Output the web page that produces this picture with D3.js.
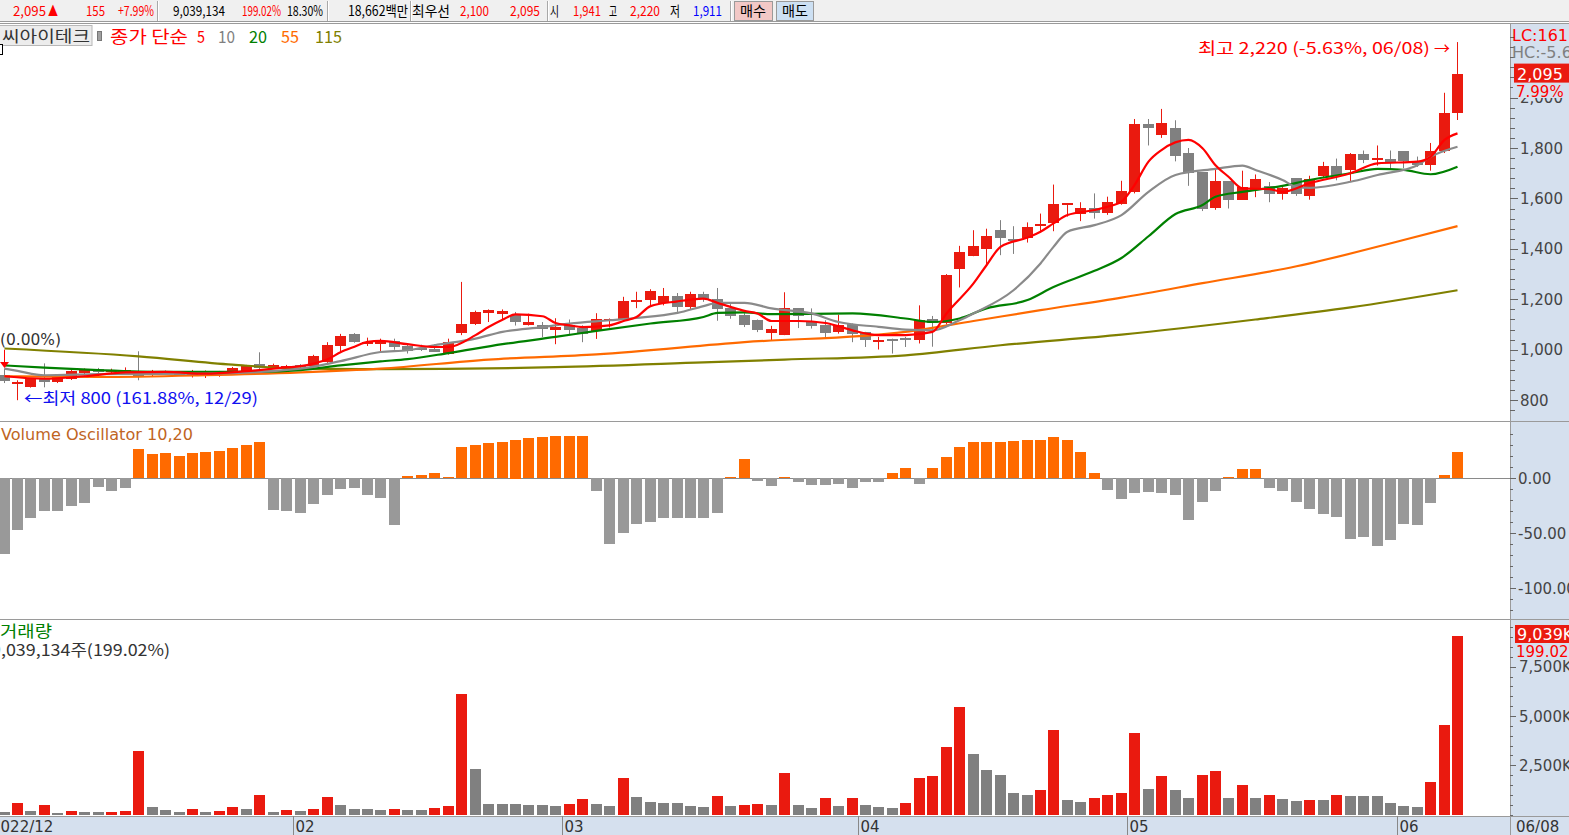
<!DOCTYPE html>
<html><head><meta charset="utf-8">
<script src="https://cdn.jsdelivr.net/npm/d3@7/dist/d3.min.js"></script>
<style>
html,body{margin:0;padding:0;background:#fff;overflow:hidden}
svg{display:block}
</style></head><body>
<svg id="chart" width="1569" height="835"></svg>
<script>
// ---------------- DATA ----------------
const dates = ["12/28","12/29",
"01/02","01/03","01/04","01/05","01/06","01/09","01/10","01/11","01/12","01/13","01/16","01/17","01/18","01/19","01/20","01/25","01/26","01/27","01/30","01/31",
"02/01","02/02","02/03","02/06","02/07","02/08","02/09","02/10","02/13","02/14","02/15","02/16","02/17","02/20","02/21","02/22","02/23","02/24","02/27","02/28",
"03/02","03/03","03/06","03/07","03/08","03/09","03/10","03/13","03/14","03/15","03/16","03/17","03/20","03/21","03/22","03/23","03/24","03/27","03/28","03/29","03/30","03/31",
"04/03","04/04","04/05","04/06","04/07","04/10","04/11","04/12","04/13","04/14","04/17","04/18","04/19","04/20","04/21","04/24","04/25","04/26","04/27","04/28",
"05/02","05/03","05/04","05/08","05/09","05/10","05/11","05/12","05/15","05/16","05/17","05/18","05/19","05/22","05/23","05/24","05/25","05/26","05/30","05/31",
"06/01","06/02","06/05","06/07","06/08"];

const opens = [
 900, 867, 852, 889, 872, 886, 910, 924, 910, 915,
 908, 905, 912, 905, 896, 896, 899, 910, 916, 945,
 930, 934, 938, 934, 952,1015,1062,1025,1025,1034,
1014,1008,1003, 985,1064,1100,1146,1144,1136,1100,
1100,1077,1100,1087,1073,1114,1120,1190,1196,1186,
1212,1170,1220,1203,1166,1137,1117,1067,1058,1164,
1110,1097,1071,1104,1071,1031,1044,1048,1038,1121,
1104,1321,1371,1400,1474,1439,1441,1493,1503,1575,
1540,1564,1543,1580,1627,1895,1852,1878,1779,1703,
1560,1669,1594,1633,1650,1617,1680,1607,1690,1728,
1713,1775,1753,1756,1788,1750,1733,1790,1941];
const highs = [
 926, 879, 888, 946, 898, 920, 926, 928, 925, 930,
 994, 920, 918, 910, 920, 918, 916, 932, 940, 990,
 945, 940, 943, 980,1030,1063,1066,1048,1044,1044,
1020,1020,1022,1044,1269,1155,1160,1160,1150,1143,
1110,1125,1120,1097,1145,1124,1210,1230,1240,1245,
1225,1230,1230,1245,1181,1145,1120,1095,1228,1164,
1164,1117,1139,1104,1071,1051,1044,1051,1176,1134,
1300,1412,1474,1480,1514,1490,1505,1540,1655,1580,
1585,1620,1607,1670,1915,1915,1955,1910,1800,1703,
1717,1669,1710,1695,1665,1645,1680,1690,1745,1758,
1780,1790,1810,1790,1788,1766,1820,2019,2220];
const lows = [
 868, 800, 850, 851, 868, 880, 898, 908, 904, 906,
 879, 895, 903, 898, 890, 888, 893, 905, 912, 918,
 925, 930, 928, 930, 948, 991,1028,1015, 991,1000,
 985, 995, 991, 981,1058,1098,1110,1120,1096,1096,
1050,1022,1060,1030,1043,1088,1115,1165,1176,1176,
1150,1160,1190,1115,1123,1090,1070,1038,1058,1086,
1084,1044,1064,1030,1011,1001, 985,1011,1025,1012,
1100,1247,1371,1336,1375,1380,1425,1465,1470,1528,
1510,1520,1535,1575,1620,1810,1840,1747,1650,1550,
1555,1560,1594,1605,1585,1595,1610,1595,1680,1672,
1665,1740,1730,1720,1720,1725,1710,1780,1911];
const closes = [
 875, 873, 885, 873, 895, 916, 924, 912, 918, 918,
 898, 916, 908, 903, 912, 914, 912, 928, 936, 929,
 940, 937, 935, 974,1018,1055,1031,1031,1031,1011,
 995,1003, 993,1031,1101,1149,1157,1155,1108,1110,
1084,1090,1080,1062,1121,1120,1192,1196,1232,1212,
1170,1220,1200,1164,1133,1097,1077,1081,1164,1134,
1093,1064,1097,1064,1038,1038,1038,1040,1117,1104,
1296,1388,1411,1450,1441,1432,1485,1498,1578,1580,
1564,1543,1587,1630,1895,1878,1898,1765,1700,1555,
1669,1594,1646,1677,1617,1640,1617,1676,1728,1690,
1775,1750,1759,1745,1750,1735,1788,1940,2095];

// volume in thousands of shares
const volumes = [
 150, 610, 200, 510, 100, 205, 150, 110, 115, 200,
3250, 400, 250, 150, 300, 150, 200, 400, 300,1010,
 150, 250, 200, 300, 910, 500, 300, 290, 250, 260,
 240, 230, 320, 420,6100,2300, 560, 540, 520, 480,
 470, 450, 550, 800, 520, 420,1850, 900, 650, 600,
 580, 420, 380, 960, 420, 480, 520, 500,2130, 500,
 350, 860, 450, 860, 500, 400, 350, 600,1880,1980,
3450,5480,3090,2280,2030,1115,1000,1270,4300, 760,
 660, 860,1010,1100,4160,1300,1980,1270, 860,2030,
2230, 860,1520, 860,1000, 800, 700, 750, 720,1000,
 950, 940, 930, 600, 420, 400,1650,4542,9039];

// volume oscillator (10,20) in %
const volOsc = [
 -69, -47, -36, -30, -30,-25.5,-22.7,-8.2,-11.8, -9,
26.4,21.8,22.7,  20,22.7,23.6,24.5,27.3,  30,32.7,
 -29, -30, -32,-23.6,-15.5,-10,-8.8,-15.5,-18.2,-42.7,
   2,   3, 4.5,   1,  28,  30,  32,  33,  35,  36,
  37,  38,  38,  38, -12, -60, -50, -42, -40, -36,
 -36, -36, -36, -32, 0.5,  17,  -3,  -7,   1,  -4,
  -6,  -6,  -5,  -9,  -4,  -4,   5,   9,  -5,   9,
  19,  28,  33,  33,  33,  34,  35,  35,  37,  35,
  24,   5, -11, -19, -14, -13, -14, -15, -38, -22,
 -12, 0.5,   8,   8,  -9, -12, -22, -28, -33, -35,
 -55, -54, -62, -56, -42, -43, -23,   3,  24];

// moving averages: [bar index, value]
const ma5 = [[0,895],[3,885],[6,895],[9,910],[12,912],[15,905],[18,915],[21,930],[22,935],[23,945],[24,962],[25,990],[26,1012],[27,1031],[28,1035],[30,1022],[32,1011],[33,1011],[35,1058],[36,1090],[37,1119],[38,1140],[40,1133],[41,1106],[42,1097],[43,1090],[45,1097],[46,1114],[47,1130],[48,1173],[50,1192],[51,1199],[52,1203],[53,1186],[54,1170],[55,1154],[56,1144],[57,1114],[59,1114],[61,1106],[62,1093],[63,1077],[65,1058],[67,1058],[69,1071],[70,1144],[72,1263],[73,1335],[74,1408],[76,1445],[77,1468],[78,1501],[79,1534],[81,1554],[82,1567],[83,1587],[84,1653],[85,1746],[86,1792],[88,1832],[89,1799],[90,1732],[91,1686],[92,1640],[94,1637],[95,1626],[97,1660],[100,1700],[102,1739],[105,1746],[106,1765],[107,1832],[108,1858]];
const ma10 = [[0,925],[1,916],[3,899],[7,903],[15,905],[22,925],[25,955],[28,991],[30,998],[32,1018],[35,1044],[37,1071],[40,1090],[42,1104],[45,1117],[47,1126],[50,1146],[52,1173],[53,1186],[55,1186],[57,1164],[60,1144],[62,1110],[65,1091],[67,1080],[69,1077],[71,1117],[72,1144],[75,1236],[77,1342],[78,1408],[79,1468],[81,1494],[83,1534],[85,1626],[87,1693],[90,1717],[92,1730],[93,1713],[95,1673],[96,1646],[97,1642],[100,1666],[102,1693],[105,1732],[106,1765],[108,1805]];
const ma20 = [[0,938],[3,929],[7,919],[12,912],[19,912],[22,919],[25,938],[28,954],[30,963],[33,987],[37,1022],[41,1051],[44,1075],[48,1104],[52,1130],[53,1146],[55,1148],[57,1141],[63,1144],[67,1124],[69,1110],[71,1124],[73,1164],[76,1197],[78,1249],[81,1313],[83,1364],[85,1450],[87,1538],[89,1574],[90,1607],[92,1626],[95,1650],[97,1673],[100,1700],[102,1717],[104,1713],[106,1696],[108,1726]];
const ma55 = [[0,895],[7,892],[15,899],[22,910],[28,925],[36,961],[44,982],[55,1030],[67,1071],[72,1114],[77,1157],[83,1207],[89,1264],[96,1331],[104,1435],[108,1490]];
const ma115 = [[0,1005],[10,974],[17,941],[22,925],[28,923],[41,931],[52,950],[58,961],[67,978],[74,1018],[83,1060],[93,1120],[100,1168],[108,1236]];

const priceTicks = [800,1000,1200,1400,1600,1800,2000];
const oscTicks = [0,-50,-100];
const volTicks = [2500,5000,7500];
const monthStarts = ["02/01","03/02","04/03","05/02","06/01"];
const monthLabels = ["02","03","04","05","06"];

// ---------------- LAYOUT ----------------
const W = 1569, H = 835, PR = 1510;
const RED = "#ea1a0f", GREY = "#808080", AXBG = "#d5e0ee";
const FONT = "'DejaVu Sans','Noto Sans CJK KR',sans-serif";
const KFONT = "'Noto Sans CJK KR','DejaVu Sans',sans-serif";
const svg = d3.select("#chart");

const x = d3.scaleBand().domain(dates).range([-3.2, 1464.0]).padding(0);
const cx = i => Math.round(x(dates[i]) + x.bandwidth() / 2);
const yP = d3.scaleLinear().domain([800, 1800]).range([400.2, 148]);
const yO = d3.scaleLinear().domain([-100, 0]).range([588, 478]);
const yV = d3.scaleLinear().domain([0, 5000]).range([814.6, 716]);

svg.append("rect").attr("width", W).attr("height", H).attr("fill", "#fff");

const defs = svg.append("defs");
[["cp", 24, 421], ["co", 422, 619], ["cv", 620, 816]].forEach(([id, t, b]) => {
  defs.append("clipPath").attr("id", id).append("rect").attr("x", 0).attr("y", t).attr("width", PR).attr("height", b - t);
});

svg.append("rect").attr("x", PR).attr("y", 23).attr("width", W - PR).attr("height", H - 23).attr("fill", AXBG);
svg.append("rect").attr("x", 0).attr("y", 816).attr("width", W).attr("height", H - 816).attr("fill", AXBG);

// ---------------- TOP BAR ----------------
const tb = svg.append("g");
tb.append("rect").attr("x", 0).attr("y", 0).attr("width", W).attr("height", 22).attr("fill", "#f0f0f0");
tb.append("line").attr("x1", 0).attr("x2", W).attr("y1", 21.5).attr("y2", 21.5).attr("stroke", "#9a9a9a");
[157, 327, 410, 547, 730].forEach(sx => {
  tb.append("line").attr("x1", sx + 0.5).attr("x2", sx + 0.5).attr("y1", 1).attr("y2", 21).attr("stroke", "#a8a8a8");
  tb.append("line").attr("x1", sx + 1.5).attr("x2", sx + 1.5).attr("y1", 1).attr("y2", 21).attr("stroke", "#ffffff");
});
tb.append("rect").attr("x", 734.5).attr("y", 1.5).attr("width", 38).attr("height", 19).attr("fill", "#f2c8c6").attr("stroke", "#9a9a9a");
tb.append("rect").attr("x", 776.5).attr("y", 1.5).attr("width", 37).attr("height", 19).attr("fill", "#cde0f3").attr("stroke", "#9a9a9a");
const topTexts = [
  ["2,095", 13, 33, "#ff0000"], ["▲", 48, 10, "#ff0000"], ["155", 86, 19, "#ff0000"], ["+7.99%", 118, 36, "#ff0000"],
  ["9,039,134", 173, 52, "#000"], ["199.02%", 242, 39, "#ff0000"], ["18.30%", 287, 36, "#000"],
  ["18,662백만", 348, 60, "#000"], ["최우선", 412, 38, "#000"], ["2,100", 460, 29, "#ff0000"], ["2,095", 510, 30, "#ff0000"],
  ["시", 550, 9, "#000"], ["1,941", 573, 28, "#ff0000"], ["고", 609, 8, "#000"], ["2,220", 630, 30, "#ff0000"],
  ["저", 670, 10, "#000"], ["1,911", 693, 29, "#0000ff"], ["매수", 740, 26, "#000"], ["매도", 782, 26, "#000"]
];
topTexts.forEach(([t, tx, tw, c]) => {
  tb.append("text").attr("x", tx).attr("y", 16).attr("font-family", KFONT).attr("font-size", 14)
    .attr("fill", c).attr("textLength", tw).attr("lengthAdjust", "spacingAndGlyphs").text(t);
});

// ---------------- PANEL FRAMES ----------------
const frame = svg.append("g").attr("stroke", "#9a9a9a").attr("stroke-width", 1);
frame.append("line").attr("x1", 0).attr("x2", W).attr("y1", 23.5).attr("y2", 23.5);
frame.append("line").attr("x1", 0).attr("x2", W).attr("y1", 421.5).attr("y2", 421.5);
frame.append("line").attr("x1", 0).attr("x2", W).attr("y1", 619.5).attr("y2", 619.5);
frame.append("line").attr("x1", 0).attr("x2", W).attr("y1", 816.5).attr("y2", 816.5);
frame.append("line").attr("x1", PR + 0.5).attr("x2", PR + 0.5).attr("y1", 23).attr("y2", H);

// ---------------- PRICE PANEL ----------------
const pg = svg.append("g").attr("clip-path", "url(#cp)");
const idx = d3.range(dates.length);
pg.selectAll("line.wick").data(idx).join("line")
  .attr("x1", i => cx(i) + 0.5).attr("x2", i => cx(i) + 0.5)
  .attr("y1", i => yP(highs[i])).attr("y2", i => yP(lows[i]))
  .attr("stroke", i => closes[i] >= opens[i] ? RED : GREY).attr("stroke-width", 1);
pg.selectAll("rect.body").data(idx).join("rect")
  .attr("x", i => cx(i) - 5).attr("width", 11)
  .attr("y", i => Math.round(yP(Math.max(opens[i], closes[i]))))
  .attr("height", i => Math.max(2, Math.round(Math.abs(yP(opens[i]) - yP(closes[i])))))
  .attr("fill", i => closes[i] >= opens[i] ? RED : GREY);

const maLine = d3.line().x(d => cx(d[0]) + 0.5).y(d => yP(d[1])).curve(d3.curveMonotoneX);
[[ma115, "#808000"], [ma55, "#ff6a00"], [ma20, "#008000"], [ma10, "#8a8a8a"], [ma5, "#ff0000"]].forEach(([arr, c]) => {
  pg.append("path").attr("d", maLine(arr)).attr("fill", "none").attr("stroke", c).attr("stroke-width", 2.2);
});

pg.append("line").attr("x1", cx(0) + 0.5).attr("x2", cx(0) + 0.5).attr("y1", yP(1000)).attr("y2", 362).attr("stroke", "#ff0000");
pg.append("path").attr("d", `M${cx(0) - 4},362 L${cx(0) + 5},362 L${cx(0) + 0.5},368 Z`).attr("fill", "#ff0000");
pg.append("text").attr("x", 0).attr("y", 345).attr("font-family", FONT).attr("font-size", 16).attr("fill", "#333")
  .attr("textLength", 61).attr("lengthAdjust", "spacingAndGlyphs").text("(0.00%)");
pg.append("text").attr("x", 24).attr("y", 404).attr("font-family", KFONT).attr("font-size", 16).attr("fill", "#1010f0")
  .attr("textLength", 234).attr("lengthAdjust", "spacingAndGlyphs").text("←최저 800 (161.88%, 12/29)");
pg.append("text").attr("x", 1198).attr("y", 54).attr("font-family", KFONT).attr("font-size", 16).attr("fill", "#ff0000")
  .attr("textLength", 232).attr("lengthAdjust", "spacingAndGlyphs").text("최고 2,220 (-5.63%, 06/08)");
pg.append("text").attr("x", 1434).attr("y", 54).attr("font-family", KFONT).attr("font-size", 16).attr("fill", "#ff0000")
  .attr("textLength", 16).attr("lengthAdjust", "spacingAndGlyphs").text("→");

const lg = svg.append("g");
lg.append("rect").attr("x", -1).attr("y", 25.5).attr("width", 93).attr("height", 20).attr("fill", "#ececec").attr("stroke", "#b8b8b8");
lg.append("text").attr("x", 2).attr("y", 42).attr("font-family", KFONT).attr("font-size", 16).attr("fill", "#333")
  .attr("textLength", 88).attr("lengthAdjust", "spacingAndGlyphs").text("씨아이테크");
lg.append("rect").attr("x", 97.5).attr("y", 31.5).attr("width", 4).attr("height", 9).attr("fill", "#a0a0a0").attr("stroke", "#777");
lg.append("rect").attr("x", -3.5).attr("y", 44.5).attr("width", 6).attr("height", 10).attr("fill", "#fff").attr("stroke", "#000");
[["종가 단순", 110, 78, "#ff0000"], ["5", 197, 8, "#ff0000"], ["10", 218, 17, "#808080"], ["20", 249, 18, "#008000"],
 ["55", 281, 18, "#ff6a00"], ["115", 315, 27, "#808000"]].forEach(([t, tx, tw, c]) => {
  lg.append("text").attr("x", tx).attr("y", 43).attr("font-family", KFONT).attr("font-size", 17).attr("fill", c)
    .attr("textLength", tw).attr("lengthAdjust", "spacingAndGlyphs").text(t);
});

const pa = svg.append("g");
d3.range(760, 2241, 40).forEach(v => {
  const yy = Math.round(yP(v)) + 0.5;
  if (yy < 24 || yy > 420) return;
  const major = priceTicks.includes(v);
  pa.append("line").attr("x1", PR).attr("x2", PR + (major ? 8 : 5)).attr("y1", yy).attr("y2", yy).attr("stroke", "#666");
});
priceTicks.forEach(v => {
  pa.append("text").attr("x", 1520).attr("y", yP(v) + 5.5).attr("font-family", FONT).attr("font-size", 15)
    .attr("fill", "#444").text(d3.format(",")(v));
});
pa.append("text").attr("x", 1512).attr("y", 41).attr("font-family", FONT).attr("font-size", 16).attr("fill", "#ff0000").text("LC:161.88%");
pa.append("text").attr("x", 1512).attr("y", 58).attr("font-family", FONT).attr("font-size", 16).attr("fill", "#808080").text("HC:-5.63%");
pa.append("rect").attr("x", 1514).attr("y", yP(2095) - 10).attr("width", 56).attr("height", 19).attr("fill", RED);
pa.append("text").attr("x", 1517).attr("y", yP(2095) + 6).attr("font-family", FONT).attr("font-size", 16).attr("fill", "#fff").text("2,095");
pa.append("rect").attr("x", 1513).attr("y", 84).attr("width", 56).attr("height", 14).attr("fill", AXBG);
pa.append("text").attr("x", 1516).attr("y", 97).attr("font-family", FONT).attr("font-size", 15).attr("fill", "#ff0000").text("7.99%");

// ---------------- VOLUME OSCILLATOR ----------------
const og = svg.append("g").attr("clip-path", "url(#co)");
og.append("line").attr("x1", 0).attr("x2", PR).attr("y1", Math.round(yO(0)) + 0.5).attr("y2", Math.round(yO(0)) + 0.5).attr("stroke", "#8a8a8a");
og.selectAll("rect").data(idx).join("rect")
  .attr("x", i => cx(i) - 5).attr("width", 11)
  .attr("y", i => Math.round(Math.min(yO(volOsc[i]), yO(0))))
  .attr("height", i => Math.round(Math.abs(yO(volOsc[i]) - yO(0))))
  .attr("fill", i => volOsc[i] >= 0 ? "#ff6a00" : "#999999");
svg.append("text").attr("x", 1).attr("y", 440).attr("font-family", FONT).attr("font-size", 16).attr("fill", "#c0651f")
  .attr("textLength", 192).attr("lengthAdjust", "spacingAndGlyphs").text("Volume Oscillator 10,20");
const oa = svg.append("g");
d3.range(-130, 41, 10).forEach(v => {
  const yy = Math.round(yO(v)) + 0.5;
  if (yy < 422 || yy > 619) return;
  const major = oscTicks.includes(v);
  oa.append("line").attr("x1", PR).attr("x2", PR + (major ? 6 : 3)).attr("y1", yy).attr("y2", yy).attr("stroke", "#666");
});
oscTicks.forEach(v => {
  oa.append("text").attr("x", 1518).attr("y", yO(v) + 5.5).attr("font-family", FONT).attr("font-size", 15)
    .attr("fill", "#444").text(d3.format(".2f")(v).replace("−", "-"));
});

// ---------------- VOLUME ----------------
const vg = svg.append("g").attr("clip-path", "url(#cv)");
vg.selectAll("rect").data(idx).join("rect")
  .attr("x", i => cx(i) - 5).attr("width", 11)
  .attr("y", i => Math.round(yV(volumes[i])))
  .attr("height", i => Math.round(yV(0)) - Math.round(yV(volumes[i])))
  .attr("fill", i => (i > 0 && volumes[i] > volumes[i - 1]) ? RED : GREY);
svg.append("text").attr("x", 0).attr("y", 637).attr("font-family", KFONT).attr("font-size", 16).attr("fill", "#008000")
  .attr("textLength", 52).attr("lengthAdjust", "spacingAndGlyphs").text("거래량");
svg.append("text").attr("x", -9).attr("y", 656).attr("font-family", KFONT).attr("font-size", 16).attr("fill", "#333")
  .attr("textLength", 179).attr("lengthAdjust", "spacingAndGlyphs").text("9,039,134주(199.02%)");
const va = svg.append("g");
d3.range(0, 10001, 500).forEach(v => {
  const yy = Math.round(yV(v)) + 0.5;
  if (yy < 620 || yy > 816) return;
  const major = volTicks.includes(v);
  va.append("line").attr("x1", PR).attr("x2", PR + (major ? 6 : 3)).attr("y1", yy).attr("y2", yy).attr("stroke", "#666");
});
volTicks.forEach(v => {
  va.append("text").attr("x", 1519).attr("y", yV(v) + 5.5).attr("font-family", FONT).attr("font-size", 15)
    .attr("fill", "#444").text(d3.format(",")(v) + "K");
});
va.append("rect").attr("x", 1515).attr("y", 625).attr("width", 55).attr("height", 18).attr("fill", RED);
va.append("text").attr("x", 1517).attr("y", 640).attr("font-family", FONT).attr("font-size", 16).attr("fill", "#fff").text("9,039K");
va.append("rect").attr("x", 1513).attr("y", 644).attr("width", 56).attr("height", 14).attr("fill", AXBG);
va.append("text").attr("x", 1516).attr("y", 657).attr("font-family", FONT).attr("font-size", 15).attr("fill", "#ff0000").text("199.02%");

// ---------------- DATE AXIS ----------------
const da = svg.append("g");
da.append("text").attr("x", -9).attr("y", 832).attr("font-family", FONT).attr("font-size", 15).attr("fill", "#333").text("2022/12");
monthStarts.forEach((d, k) => {
  const xx = Math.round(x(d)) + 0.5;
  da.append("line").attr("x1", xx).attr("x2", xx).attr("y1", 816).attr("y2", H).attr("stroke", "#888");
  da.append("text").attr("x", xx + 2).attr("y", 832).attr("font-family", FONT).attr("font-size", 15).attr("fill", "#333").text(monthLabels[k]);
});
da.append("text").attr("x", 1516).attr("y", 832).attr("font-family", FONT).attr("font-size", 15).attr("fill", "#333").text("06/08");
</script>
</body></html>
